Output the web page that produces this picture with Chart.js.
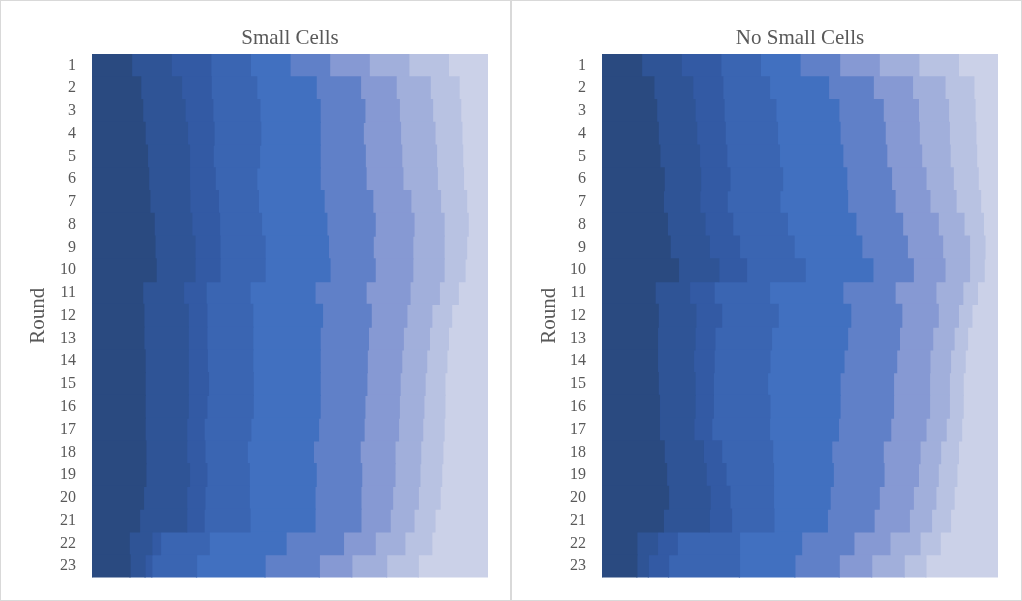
<!DOCTYPE html>
<html>
<head>
<meta charset="utf-8">
<title>Small Cells vs No Small Cells</title>
<script src="https://cdn.jsdelivr.net/npm/chart.js@4.4.1/dist/chart.umd.min.js"></script>
<style>
  html, body { margin: 0; padding: 0; background: #ffffff; }
  #wrap { position: relative; width: 1022px; height: 601px; }
  .panel {
    position: absolute; top: 0; width: 511px; height: 601px;
    box-sizing: border-box; border: 1px solid #d9d9d9; background: #ffffff;
  }
  #leftPanel { left: 0; }
  #rightPanel { left: 511px; }
  .panel canvas { display: block; }
</style>
</head>
<body>
<div id="wrap">
  <div class="panel" id="leftPanel"><canvas id="smallChart" width="509" height="599"></canvas></div>
  <div class="panel" id="rightPanel"><canvas id="noSmallChart" width="509" height="599"></canvas></div>
</div>
<script>
// Rounds (category axis)
const rounds = ['1','2','3','4','5','6','7','8','9','10','11','12','13','14','15','16','17','18','19','20','21','22','23'];

// Small Cells: share of each band per round (%)
const sc1  = [10,12.3,12.8,13.4,14.0,14.3,14.6,15.7,15.9,16.2,12.8,13.1,13.1,13.4,13.4,13.4,13.4,13.6,13.6,13.0,12.0,9.4,9.6];
const sc2  = [10,10.3,10.7,10.7,10.6,10.3,10.1,9.5,10.1,9.8,10.3,11.2,11.2,10.9,10.9,10.9,10.5,10.3,11.0,10.9,11.9,5.7,3.8];
const sc3  = [10,7.5,7.0,6.7,6.0,6.5,7.2,7.0,6.3,6.3,5.7,4.7,4.7,4.8,5.1,4.7,4.4,4.6,4.4,4.6,4.4,2.2,1.7];
const sc4  = [10,11.5,11.9,11.8,11.7,10.5,10.1,10.6,11.4,11.4,11.1,11.6,11.6,11.5,11.3,11.7,11.8,10.7,10.7,11.2,11.6,12.3,11.3];
const sc5  = [10,15.0,15.2,15.0,15.3,16.0,16.6,16.5,16.0,16.4,16.4,17.6,17.0,17.0,16.9,16.9,17.1,16.7,16.9,16.6,16.4,19.4,17.3];
const sc6  = [10,11.2,11.3,10.9,11.4,11.6,12.3,12.2,11.3,11.4,12.9,12.3,12.2,11.9,11.8,11.3,11.5,11.8,11.5,11.6,11.6,14.5,13.7];
const sc7  = [10,9.0,8.7,9.4,9.2,9.3,9.6,9.8,10.0,9.5,11.1,9.0,8.8,8.7,8.4,8.7,8.7,8.8,8.4,8.0,7.4,8.0,8.2];
const sc8  = [10,8.6,8.4,8.7,8.8,8.7,7.5,7.6,7.9,7.9,7.4,6.3,6.6,6.3,6.3,6.2,6.1,6.5,6.3,6.5,6.0,7.5,8.8];
const sc9  = [10,7.3,7.1,6.8,6.6,6.6,6.6,6.1,5.7,5.3,4.8,5.0,4.8,5.1,5.0,5.3,5.4,5.6,5.5,5.5,5.3,6.8,8.0];
const sc10 = [10,7.3,6.9,6.6,6.4,6.2,5.4,5.0,5.4,5.8,7.5,9.2,10.0,10.4,10.9,10.9,11.1,11.4,11.7,12.1,13.4,14.2,17.6];

// No Small Cells: share of each band per round (%)
const nsc1  = [10,13.1,13.8,14.2,14.6,15.7,15.5,16.5,17.2,19.3,13.4,14.2,14.0,14.0,14.2,14.5,14.5,15.7,16.3,16.8,15.5,8.8,8.8];
const nsc2  = [10,9.8,9.7,9.7,10.0,9.2,9.2,9.5,9.9,10.2,8.7,9.5,9.5,9.1,9.3,9.0,8.7,9.9,10.0,10.5,11.6,5.2,2.9];
const nsc3  = [10,7.6,7.3,7.2,6.9,7.4,6.9,7.0,7.6,7.0,6.2,6.5,5.0,5.2,4.6,4.6,4.5,4.6,5.0,5.0,5.6,5.0,5.1];
const nsc4  = [10,11.8,13.1,13.2,13.3,13.3,13.3,13.8,13.8,14.8,14.0,14.3,14.3,14.1,13.7,14.3,14.6,12.9,12.0,11.0,10.7,15.7,17.9];
const nsc5  = [10,14.9,15.9,15.8,16.0,16.2,17.1,17.3,17.1,17.1,18.5,18.3,19.2,18.7,18.3,17.7,17.4,14.9,15.1,14.3,13.5,15.7,14.0];
const nsc6  = [10,11.3,11.2,11.4,11.1,11.3,12.0,11.8,11.5,10.2,13.2,12.9,13.1,13.3,13.5,13.5,13.2,13.0,12.8,12.4,11.8,13.2,11.2];
const nsc7  = [10,9.9,8.9,8.6,8.8,8.7,8.8,9.0,8.9,8.0,10.3,9.2,8.4,8.4,9.1,9.1,8.9,9.3,8.7,8.6,8.9,9.1,8.2];
const nsc8  = [10,8.2,7.6,7.6,7.2,6.9,6.6,6.5,6.8,6.2,6.8,5.1,5.4,5.2,5.0,5.0,5.1,5.2,5.0,5.7,5.6,7.6,8.2];
const nsc9  = [10,7.3,6.7,6.7,6.7,6.3,6.2,4.9,3.9,3.7,3.7,3.4,3.4,3.7,3.5,3.5,3.9,4.5,4.7,4.6,4.8,5.1,5.5];
const nsc10 = [10,6.1,5.8,5.6,5.4,5.0,4.4,3.7,3.3,3.5,5.2,6.6,7.7,8.3,8.8,8.8,9.2,10.0,10.4,11.1,12.0,14.6,18.2];

// blue monochromatic palette, dark -> light
const bandColors = ['#2a4a80', '#2f5496', '#335aa4', '#3a65b2', '#4170c0',
                    '#6080c8', '#8699d3', '#a1afdb', '#b8c2e2', '#cbd1e8'];

const serif = '"Times New Roman", "Liberation Serif", serif';

// 100% stacked: scale each round to its own total
function toPercent(seriesList) {
    const totals = rounds.map((_, i) => seriesList.reduce((s, arr) => s + arr[i], 0));
    return seriesList.map(arr => arr.map((v, i) => v / totals[i] * 100));
}

function makePanel(canvasId, title, seriesList, rightPad, axisWidth) {
    const ctx = document.getElementById(canvasId);
    const shares = toPercent(seriesList);

    return new Chart(ctx.getContext('2d'), {
        type: 'bar',
        data: {
            labels: rounds,
            datasets: shares.map((data, k) => ({
                label: 'Band ' + (k + 1),
                data: data,
                backgroundColor: bandColors[k],
                borderWidth: 0,
                inflateAmount: 0.6,   // hides hairline seams between rows
                barPercentage: 1,
                categoryPercentage: 1
            }))
        },
        options: {
            indexAxis: 'y',
            responsive: false,
            animation: false,
            layout: {
                padding: { top: 0, left: 0, right: rightPad, bottom: 22.5 }
            },
            plugins: {
                legend: { display: false },
                tooltip: { enabled: false },
                title: {
                    display: true,
                    text: title,
                    fullSize: false,
                    color: '#595959',
                    font: { family: serif, size: 21, weight: 'normal' },
                    padding: { top: 25, bottom: 2.8 }
                }
            },
            scales: {
                x: {
                    stacked: true,
                    display: false,
                    min: 0,
                    max: 100
                },
                y: {
                    stacked: true,
                    afterFit: (scale) => { scale.width = axisWidth; },
                    grid: { display: false, drawTicks: true, tickLength: 16 },
                    border: { display: true, color: '#d9d9d9' },
                    ticks: {
                        color: '#595959',
                        padding: 0,
                        autoSkip: false,
                        font: { family: serif, size: 16 }
                    },
                    title: {
                        display: true,
                        text: 'Round',
                        color: '#595959',
                        font: { family: serif, size: 21 },
                        padding: { top: 25, bottom: 0 }
                    }
                }
            }
        }
    });
}

makePanel('smallChart', 'Small Cells',
    [sc1, sc2, sc3, sc4, sc5, sc6, sc7, sc8, sc9, sc10], 22, 91);
makePanel('noSmallChart', 'No Small Cells',
    [nsc1, nsc2, nsc3, nsc4, nsc5, nsc6, nsc7, nsc8, nsc9, nsc10], 23, 90);
</script>
</body>
</html>
